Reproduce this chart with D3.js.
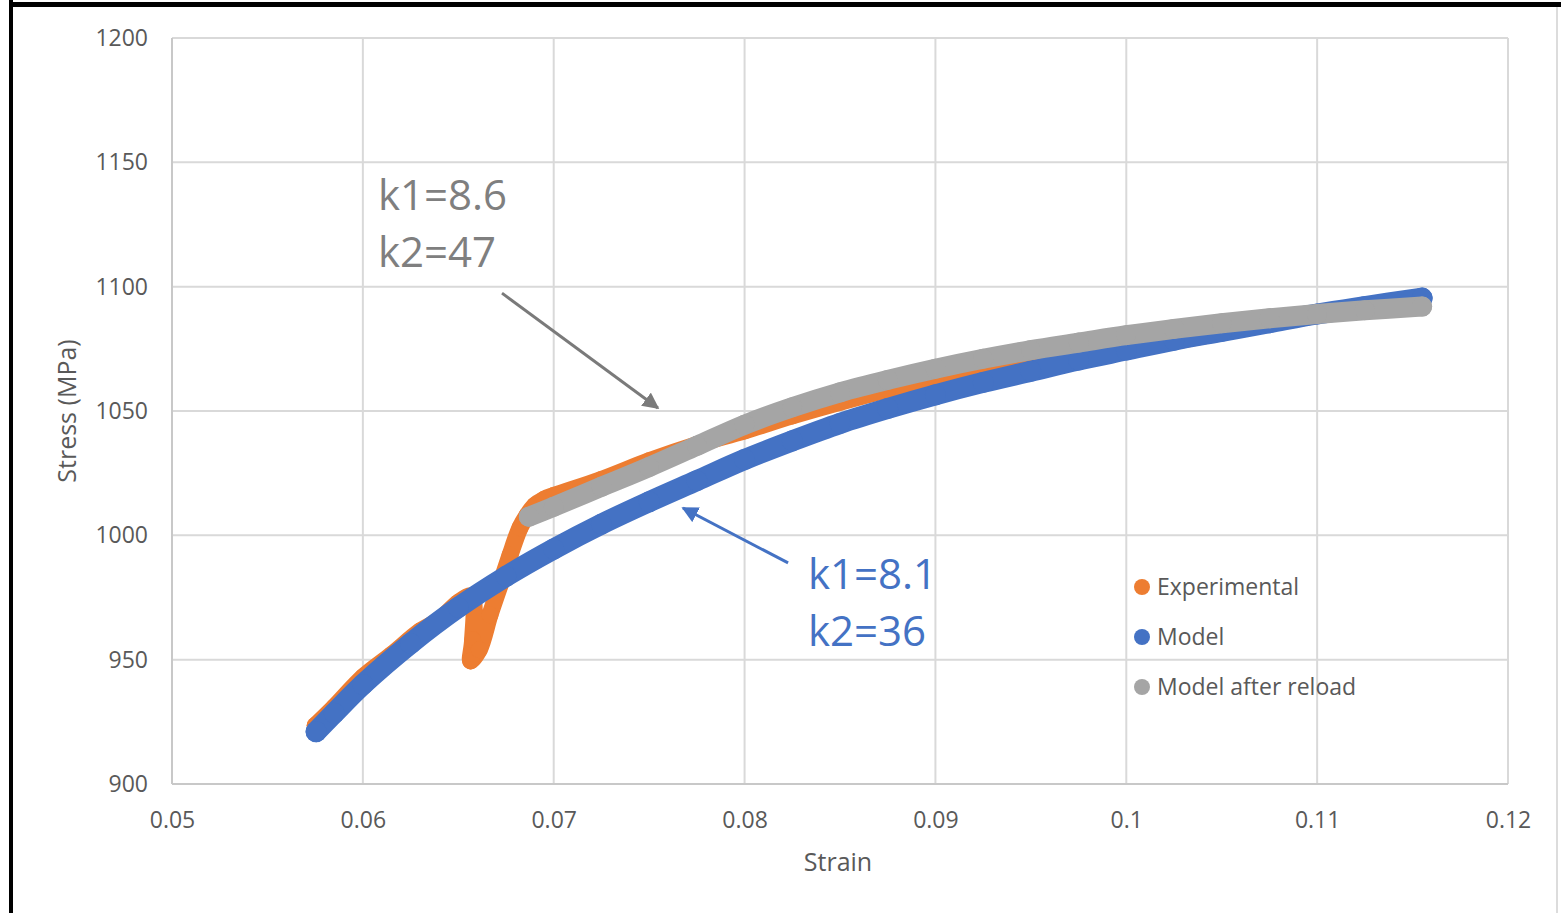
<!DOCTYPE html>
<html>
<head>
<meta charset="utf-8">
<script src="https://cdn.jsdelivr.net/npm/d3@7"></script>
<style>
  html, body { margin: 0; padding: 0; background: #fff; }
  svg { display: block; }
  text { font-family: "Open Sans", "Noto Sans", sans-serif; }
</style>
</head>
<body>
<svg id="chart" width="1561" height="913"></svg>
<script>
// ---------- data ----------
const xTicks = [0.05, 0.06, 0.07, 0.08, 0.09, 0.10, 0.11, 0.12];
const xTickLabels = ["0.05", "0.06", "0.07", "0.08", "0.09", "0.1", "0.11", "0.12"];
const yTicks = [900, 950, 1000, 1050, 1100, 1150, 1200];
const yTickLabels = ["900", "950", "1000", "1050", "1100", "1150", "1200"];

const seriesNames = ["Experimental", "Model", "Model after reload"];

// Experimental: loading, unloading, reloading
const expStrain = [0.0575, 0.0585, 0.0600, 0.0615, 0.0630, 0.0640, 0.0650, 0.0657,
  0.06575, 0.06565, 0.0661, 0.06666, 0.06719, 0.06771, 0.06823, 0.0686,
  0.0690, 0.0695, 0.0700, 0.0725, 0.0750, 0.0775, 0.0800, 0.0825, 0.0850, 0.0875,
  0.0900, 0.0925, 0.0950, 0.0975, 0.1000, 0.1025, 0.1050, 0.1075, 0.1100, 0.1125, 0.1155];
const expStress = [923.5, 931, 943, 952, 961.5, 966, 973, 975.5,
  958, 949.5, 954, 968, 980, 992, 1003, 1008,
  1012, 1014.5, 1016, 1022.5, 1030, 1036.5, 1042, 1048, 1053.5, 1058.5,
  1063, 1067, 1070.5, 1073, 1075, 1078, 1081.5, 1085, 1088.5, 1092, 1096];

// Model
const modelStrain = [0.05755, 0.0585, 0.0600, 0.0625, 0.0650, 0.0675, 0.0700, 0.0725,
  0.0750, 0.0775, 0.0800, 0.0825, 0.0850, 0.0875, 0.0900, 0.0925, 0.0950, 0.0975,
  0.1000, 0.1025, 0.1050, 0.1075, 0.1100, 0.1125, 0.1155];
const modelStress = [921, 928.5, 940, 956.5, 971, 983.5, 994.5, 1004.5,
  1013.5, 1022, 1030.5, 1038, 1045, 1051, 1056.5, 1061.5, 1066, 1070.5,
  1074.5, 1078.5, 1082, 1085.5, 1089, 1092, 1095.4];

// Model after reload
const reloadStrain = [0.0687, 0.0700, 0.0725, 0.0750, 0.0775, 0.0800, 0.0825, 0.0850,
  0.0875, 0.0900, 0.0925, 0.0950, 0.0975, 0.1000, 0.1025, 0.1050, 0.1075, 0.1100,
  0.1125, 0.1155];
const reloadStress = [1007.5, 1011.5, 1019.5, 1027.5, 1036, 1044.5, 1051.5, 1057.5,
  1062.5, 1067, 1071, 1074.5, 1077.5, 1080.5, 1083, 1085.3, 1087.3, 1089,
  1090.5, 1092];

// Annotations (data coordinates)
const annoGrayText = ["k1=8.6", "k2=47"];
const annoGrayTextPos = [[0.06079, 1130.8], [0.06079, 1107.9]];
const annoGrayArrow = [[0.06729, 1097.4], [0.07546, 1051.2]];
const annoBlueText = ["k1=8.1", "k2=36"];
const annoBlueTextPos = [[0.08332, 978.4], [0.08332, 955.5]];
const annoBlueArrow = [[0.08228, 988.9], [0.07677, 1011.0]];

// ---------- drawing ----------
const colors = ["#ED7D31", "#4472C4", "#A5A5A5"];
const radii = [8.5, 10.5, 10];
const svg = d3.select("#chart");
const W = 1561, H = 913;

const x = d3.scaleLinear().domain([0.05, 0.12]).range([172, 1508]);
const y = d3.scaleLinear().domain([900, 1200]).range([784, 38]);

svg.append("rect").attr("width", W).attr("height", H).attr("fill", "#fff");

// grid
const grid = svg.append("g");
grid.selectAll("line.v").data(xTicks).join("line")
  .attr("x1", d => x(d)).attr("x2", d => x(d))
  .attr("y1", y(900)).attr("y2", y(1200))
  .attr("stroke", "#d9d9d9").attr("stroke-width", 2);
grid.selectAll("line.h").data(yTicks).join("line")
  .attr("x1", x(0.05)).attr("x2", x(0.12))
  .attr("y1", d => y(d)).attr("y2", d => y(d))
  .attr("stroke", "#d9d9d9").attr("stroke-width", 2);
// axis lines
svg.append("line").attr("x1", x(0.05)).attr("x2", x(0.12)).attr("y1", y(900)).attr("y2", y(900))
  .attr("stroke", "#c8c8c8").attr("stroke-width", 2);
svg.append("line").attr("x1", x(0.05)).attr("x2", x(0.05)).attr("y1", y(900)).attr("y2", y(1200))
  .attr("stroke", "#c8c8c8").attr("stroke-width", 2);

// tick labels via axes
const xAxis = d3.axisBottom(x).tickValues(xTicks).tickSize(0).tickPadding(0)
  .tickFormat((d, i) => xTickLabels[i]);
const gx = svg.append("g").attr("transform", `translate(0,${y(900) + 44})`).call(xAxis);
gx.select(".domain").remove();
gx.selectAll("text").attr("font-size", 23).attr("fill", "#595959")
  .attr("font-family", "'Open Sans', sans-serif").attr("dy", 0).attr("y", 0);

const yAxis = d3.axisLeft(y).tickValues(yTicks).tickSize(0).tickPadding(24)
  .tickFormat((d, i) => yTickLabels[i]);
const gy = svg.append("g").attr("transform", `translate(${x(0.05)},0)`).call(yAxis);
gy.select(".domain").remove();
gy.selectAll("text").attr("font-size", 23).attr("fill", "#595959")
  .attr("font-family", "'Open Sans', sans-serif");

// axis titles
svg.append("text").attr("x", (x(0.05) + x(0.12)) / 2 - 2).attr("y", 871)
  .attr("text-anchor", "middle").attr("font-size", 25).attr("fill", "#595959").text("Strain");
svg.append("text").attr("transform", `translate(76,${(y(900) + y(1200)) / 2}) rotate(-90)`)
  .attr("text-anchor", "middle").attr("font-size", 25).attr("fill", "#595959").text("Stress (MPa)");

// series
const series = [
  expStrain.map((s, i) => [s, expStress[i]]),
  modelStrain.map((s, i) => [s, modelStress[i]]),
  reloadStrain.map((s, i) => [s, reloadStress[i]])
];
const line = d3.line().x(d => x(d[0])).y(d => y(d[1])).curve(d3.curveCatmullRom.alpha(0.5));
series.forEach((pts, k) => {
  const g = svg.append("g");
  g.append("path").attr("d", line(pts)).attr("fill", "none")
    .attr("stroke", colors[k]).attr("stroke-width", radii[k] * 2)
    .attr("stroke-linejoin", "round").attr("stroke-linecap", "round");
  g.selectAll("circle").data(pts).join("circle")
    .attr("cx", d => x(d[0])).attr("cy", d => y(d[1])).attr("r", radii[k])
    .attr("fill", colors[k]);
});

// annotations
const defs = svg.append("defs");
function marker(id, color) {
  defs.append("marker").attr("id", id).attr("viewBox", "0 0 10 10")
    .attr("refX", 9).attr("refY", 5).attr("markerWidth", 5.5).attr("markerHeight", 5.5)
    .attr("markerUnits", "strokeWidth").attr("orient", "auto")
    .append("path").attr("d", "M0,0 L10,5 L0,10 z").attr("fill", color);
}
marker("arrGray", "#7a7a7a");
marker("arrBlue", "#4472C4");

svg.append("line")
  .attr("x1", x(annoGrayArrow[0][0])).attr("y1", y(annoGrayArrow[0][1]))
  .attr("x2", x(annoGrayArrow[1][0])).attr("y2", y(annoGrayArrow[1][1]))
  .attr("stroke", "#7a7a7a").attr("stroke-width", 3).attr("marker-end", "url(#arrGray)");
svg.append("line")
  .attr("x1", x(annoBlueArrow[0][0])).attr("y1", y(annoBlueArrow[0][1]))
  .attr("x2", x(annoBlueArrow[1][0])).attr("y2", y(annoBlueArrow[1][1]))
  .attr("stroke", "#4472C4").attr("stroke-width", 3).attr("marker-end", "url(#arrBlue)");

annoGrayText.forEach((t, i) => {
  svg.append("text").attr("x", x(annoGrayTextPos[i][0])).attr("y", y(annoGrayTextPos[i][1]))
    .attr("font-size", 42).attr("fill", "#7f7f7f").text(t);
});
annoBlueText.forEach((t, i) => {
  svg.append("text").attr("x", x(annoBlueTextPos[i][0])).attr("y", y(annoBlueTextPos[i][1]))
    .attr("font-size", 42).attr("fill", "#4472C4").text(t);
});

// legend
const legend = svg.append("g").attr("transform", "translate(1142,587)");
seriesNames.forEach((n, i) => {
  const g = legend.append("g").attr("transform", `translate(0,${i * 50})`);
  g.append("circle").attr("r", 8).attr("fill", colors[i]);
  g.append("text").attr("x", 15).attr("y", 0).attr("dy", "0.35em")
    .attr("font-size", 23).attr("fill", "#595959").text(n);
});

// outer frame
svg.append("line").attr("x1", 11).attr("x2", 11).attr("y1", 0).attr("y2", H)
  .attr("stroke", "#000").attr("stroke-width", 4);
svg.append("line").attr("x1", 9).attr("x2", W).attr("y1", 4.5).attr("y2", 4.5)
  .attr("stroke", "#000").attr("stroke-width", 5);
svg.append("line").attr("x1", 1557).attr("x2", 1557).attr("y1", 7).attr("y2", H)
  .attr("stroke", "#dcdcdc").attr("stroke-width", 2);
</script>
</body>
</html>
